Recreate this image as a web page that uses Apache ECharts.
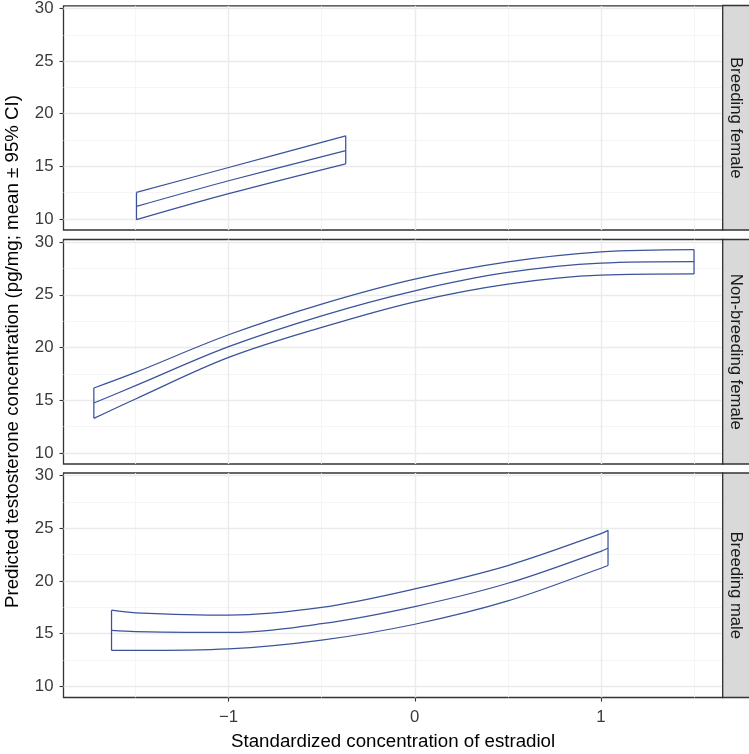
<!DOCTYPE html>
<html><head><meta charset="utf-8">
<script src="https://cdn.jsdelivr.net/npm/echarts@6/dist/echarts.min.js"></script>
<style>html,body{margin:0;padding:0;background:#fff}#c{width:749px;height:754px}</style>
</head><body><div id="c"></div>
<script>
// ---- data ----
const panelNames = ['Breeding female', 'Non-breeding female', 'Breeding male'];
const xTicks = [-1, 0, 1];
const xMinor = [-1.5, -0.5, 0.5, 1.5];
const yTicks = [10, 15, 20, 25, 30];
const yMinor = [12.5, 17.5, 22.5, 27.5];

const bfX     = [-1.495, -1.0, -0.371];
const bfUpper = [12.52, 14.89, 17.90];
const bfMean  = [11.19, 13.63, 16.50];
const bfLower = [9.93, 12.40, 15.24];

const nbfX     = [-1.724, -1.5, -1.0, -0.5, 0.0, 0.5, 1.0, 1.5];
const nbfUpper = [16.16, 17.64, 21.21, 24.12, 26.49, 28.13, 29.08, 29.30];
const nbfMean  = [14.74, 16.38, 20.08, 23.01, 25.38, 27.12, 28.01, 28.15];
const nbfLower = [13.28, 15.12, 19.06, 21.91, 24.34, 26.02, 26.87, 26.98];

const bmX     = [-1.629, -1.5, -1.0, -0.5, 0.0, 0.5, 1.0, 1.038];
const bmUpper = [17.23, 16.98, 16.76, 17.49, 19.25, 21.47, 24.50, 24.81];
const bmMean  = [15.31, 15.21, 15.12, 15.95, 17.58, 19.79, 22.82, 23.11];
const bmLower = [13.41, 13.41, 13.56, 14.39, 15.90, 18.11, 21.21, 21.47];

const panels = [
  {x: bfX, up: bfUpper, mean: bfMean, lo: bfLower},
  {x: nbfX, up: nbfUpper, mean: nbfMean, lo: nbfLower},
  {x: bmX, up: bmUpper, mean: bmMean, lo: bmLower}
];

// ---- layout ----
const X_MIN = -1.887, X_MAX = 1.654;
const Y_MIN = 8.95, Y_MAX = 30.25;
const LEFT = 63.5, WIDTH = 659.2, HEIGHT = 224.5;
const TOPS = [5.5, 239.5, 473];
const FONT = '"Liberation Sans", Arial, Helvetica, sans-serif';
const LINE = '#3a539b';

const zip = (a, b) => a.map((v, i) => [v, b[i]]);
const minus = v => (v < 0 ? '\u2212' + (-v) : String(v));

const grid = [], xAxis = [], yAxis = [], series = [], graphic = [];

panels.forEach((p, i) => {
  grid.push({left: LEFT, top: TOPS[i], width: WIDTH, height: HEIGHT,
    show: true, borderColor: '#333', borderWidth: 1.3, backgroundColor: '#fff'});
  const last = i === panels.length - 1;
  xAxis.push({gridIndex: i, type: 'value', min: X_MIN, max: X_MAX,
    axisLine: {show: false, onZero: false},
    splitLine: {show: false},
    axisTick: {show: last, customValues: xTicks, length: 4, lineStyle: {color: '#333', width: 1.1}},
    axisLabel: {show: last, customValues: xTicks, formatter: minus, margin: 11,
      fontSize: 16.8, color: '#3a3a3a', fontFamily: FONT}
  });
  yAxis.push({gridIndex: i, type: 'value', min: Y_MIN, max: Y_MAX,
    axisLine: {show: false, onZero: false},
    splitLine: {show: false},
    axisTick: {show: true, customValues: yTicks, length: 4, lineStyle: {color: '#333', width: 1.1}},
    axisLabel: {show: true, customValues: yTicks, margin: 10,
      fontSize: 16.8, color: '#3a3a3a', fontFamily: FONT}
  });
  const major = {color: '#ebebeb', width: 1.4, type: 'solid'};
  const minor = {color: '#f3f3f3', width: 0.8, type: 'solid'};
  series.push({type: 'line', xAxisIndex: i, yAxisIndex: i, data: [], z: 1, zlevel: 0, silent: true,
    markLine: {silent: true, z: 1, symbol: 'none', animation: false, label: {show: false},
      emphasis: {disabled: true},
      data: [
        ...xMinor.map(v => ({xAxis: v, lineStyle: minor})),
        ...yMinor.map(v => ({yAxis: v, lineStyle: minor})),
        ...xTicks.map(v => ({xAxis: v, lineStyle: major})),
        ...yTicks.map(v => ({yAxis: v, lineStyle: major}))
      ]}
  });
  const common = {type: 'line', xAxisIndex: i, yAxisIndex: i, showSymbol: false, symbol: 'none',
    smooth: 0.35, z: 8, silent: true, animation: false,
    lineStyle: {color: LINE, width: 1.25}};
  series.push({...common, data: zip(p.x, p.up)});
  series.push({...common, data: zip(p.x, p.mean)});
  series.push({...common, data: zip(p.x, p.lo)});
  const n = p.x.length - 1;
  series.push({...common, smooth: false, data: [[p.x[0], p.lo[0]], [p.x[0], p.up[0]]]});
  series.push({...common, smooth: false, data: [[p.x[n], p.lo[n]], [p.x[n], p.up[n]]]});

  // facet strip
  graphic.push({type: 'rect', z: 10,
    shape: {x: LEFT + WIDTH, y: TOPS[i], width: 40, height: HEIGHT},
    style: {fill: '#d9d9d9', stroke: '#333', lineWidth: 1.3}});
  graphic.push({type: 'text', z: 11, x: LEFT + WIDTH + 13, y: TOPS[i] + HEIGHT / 2,
    rotation: -Math.PI / 2,
    style: {text: panelNames[i], fill: '#1a1a1a', font: '16.7px ' + FONT,
      textAlign: 'center', textVerticalAlign: 'middle'}});
});

graphic.push({type: 'text', z: 11, x: 13, y: (TOPS[0] + TOPS[2] + HEIGHT) / 2,
  rotation: Math.PI / 2,
  style: {text: 'Predicted testosterone concentration (pg/mg; mean \u00b1 95% CI)',
    fill: '#000', font: '18.7px ' + FONT, textAlign: 'center', textVerticalAlign: 'middle'}});
graphic.push({type: 'text', z: 11, x: LEFT + WIDTH / 2, y: 742,
  style: {text: 'Standardized concentration of estradiol',
    fill: '#000', font: '18.7px ' + FONT, textAlign: 'center', textVerticalAlign: 'middle'}});

const chart = echarts.init(document.getElementById('c'), null, {renderer: 'canvas'});
chart.setOption({animation: false, backgroundColor: '#fff', grid, xAxis, yAxis, series, graphic});
</script></body></html>
